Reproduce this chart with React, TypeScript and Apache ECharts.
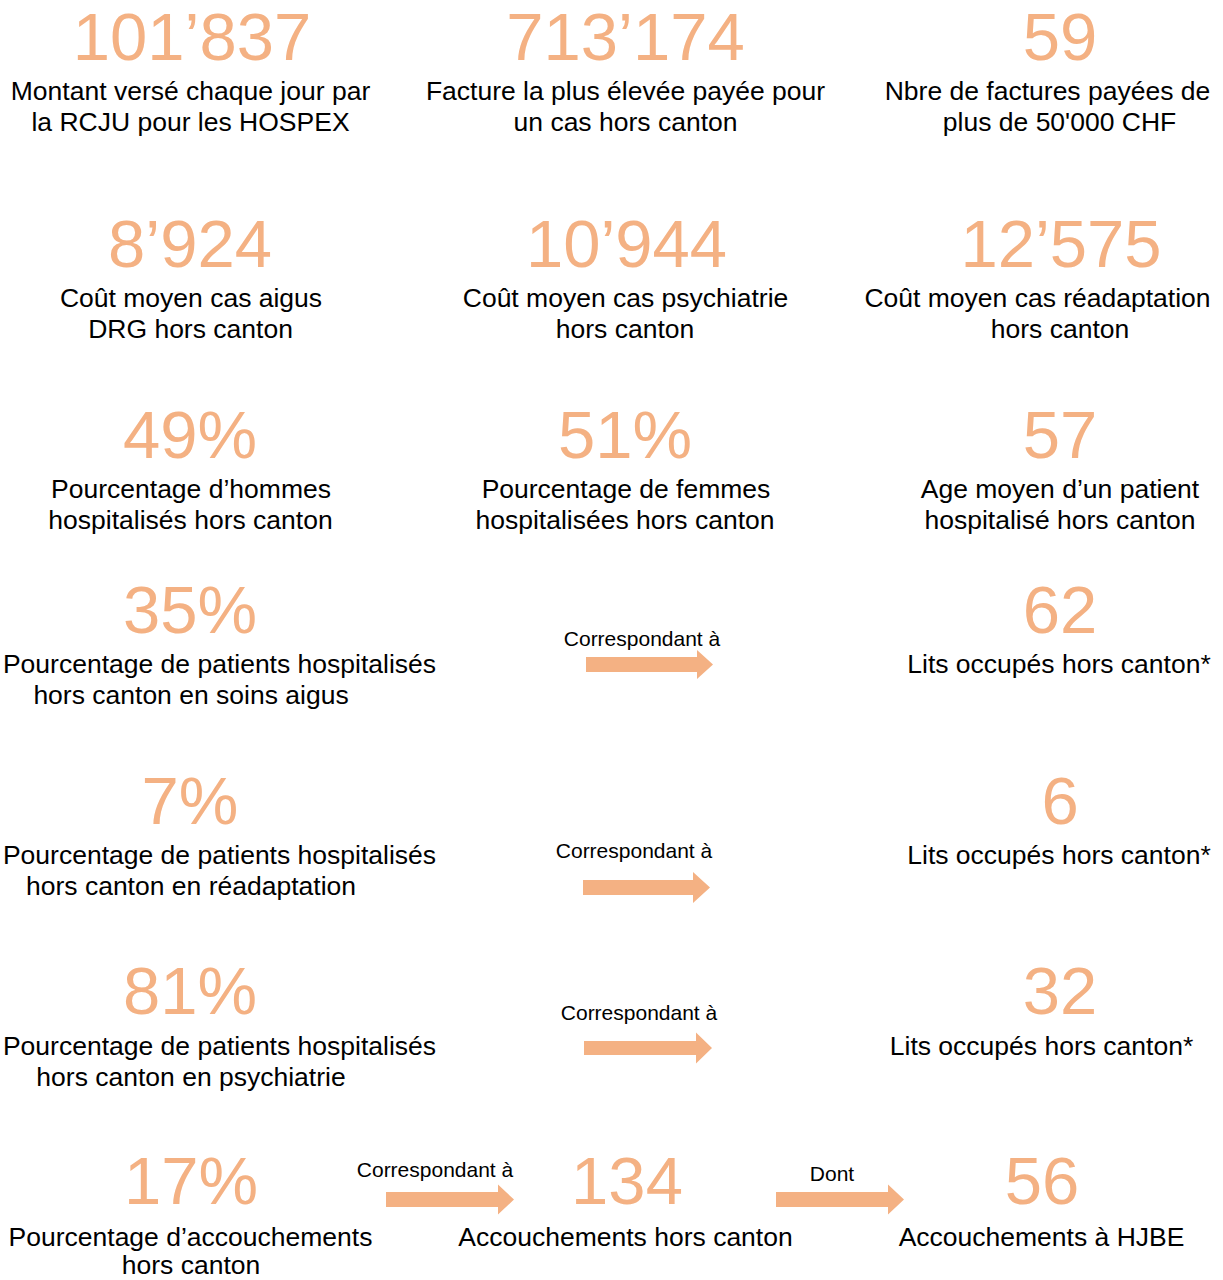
import React, { useEffect, useRef } from "react";
import * as echarts from "echarts";

// ---- Data ----
const kpiValues: string[] = [
  "101’837", "713’174", "59",
  "8’924", "10’944", "12’575",
  "49%", "51%", "57",
  "35%", "62",
  "7%", "6",
  "81%", "32",
  "17%", "134", "56",
];

const kpiLabels: string[][] = [
  ["Montant versé chaque jour par", "la RCJU pour les HOSPEX"],
  ["Facture la plus élevée payée pour", "un cas hors canton"],
  ["Nbre de factures payées de", "plus de 50'000 CHF"],
  ["Coût moyen cas aigus", "DRG hors canton"],
  ["Coût moyen cas psychiatrie", "hors canton"],
  ["Coût moyen cas réadaptation", "hors canton"],
  ["Pourcentage d’hommes", "hospitalisés hors canton"],
  ["Pourcentage de femmes", "hospitalisées hors canton"],
  ["Age moyen d’un patient", "hospitalisé hors canton"],
  ["Pourcentage de patients hospitalisés", "hors canton en soins aigus"],
  ["Lits occupés hors canton*"],
  ["Pourcentage de patients hospitalisés", "hors canton en réadaptation"],
  ["Lits occupés hors canton*"],
  ["Pourcentage de patients hospitalisés", "hors canton en psychiatrie"],
  ["Lits occupés hors canton*"],
  ["Pourcentage d’accouchements", "hors canton"],
  ["Accouchements hors canton"],
  ["Accouchements à HJBE"],
];

const arrowCaptions: string[] = [
  "Correspondant à",
  "Correspondant à",
  "Correspondant à",
  "Correspondant à",
  "Dont",
];

// ---- Layout (positions only) ----
// [numberX, numberY, labelLine1X, labelLine2X, labelLine1Y, labelLine2Y]
const kpiLayout: number[][] = [
  [192, 36, 190.5, 190.5, 91, 122],
  [625.5, 36, 625.5, 625.5, 91, 122],
  [1060, 36, 1047.5, 1059.5, 91, 122],
  [190, 243, 191, 190.5, 298, 329],
  [626.5, 243, 625.5, 625, 298, 329],
  [1061, 243, 1037.5, 1060, 298, 329],
  [190, 434, 191, 190.5, 489, 520],
  [625, 434, 626, 625, 489, 520],
  [1060, 434, 1060, 1060, 489, 520],
  [190, 609, 219.5, 191, 664, 695],
  [1060, 609, 1059, 1059, 664, 695],
  [190, 800, 219.5, 191, 855, 886],
  [1060, 800, 1059, 1059, 855, 886],
  [190, 990, 219.5, 191, 1046, 1077],
  [1060, 990, 1041.5, 1041.5, 1046, 1077],
  [191, 1180, 190.5, 191, 1237, 1265],
  [627, 1180, 625.5, 625.5, 1237, 1268],
  [1042, 1180, 1041.5, 1041.5, 1237, 1268],
];

// [x0, headStartX, tipX, centerY, bodyHalf, headHalf, captionX, captionY]
const arrowLayout: number[][] = [
  [586, 697, 713, 664.5, 7.5, 14.5, 642, 638],
  [583, 693, 710, 887.5, 7.5, 15.5, 634, 850],
  [584, 696, 712, 1048, 7, 15.5, 639, 1012],
  [386, 498, 514, 1199.5, 7.5, 15, 435, 1169],
  [776, 888, 904, 1199.5, 7.5, 15, 832, 1173],
];

const ORANGE = "#F4B183";
const FONT = '"Liberation Sans", Arial, sans-serif';
const NUM_SIZE = 67;
const LABEL_SIZE = 26.5;
const CAPTION_SIZE = 21;

function text(x: number, y: number, t: string, size: number, fill: string) {
  return {
    type: "text",
    x,
    y,
    silent: true,
    style: {
      text: t,
      font: `${size}px ${FONT}`,
      fill,
      textAlign: "center",
      textVerticalAlign: "middle",
      align: "center",
      verticalAlign: "middle",
    },
  };
}

export default function App() {
  const ref = useRef<HTMLDivElement>(null);

  useEffect(() => {
    if (!ref.current) return;
    const chart = echarts.init(ref.current, undefined, { renderer: "svg" });
    const elements: any[] = [];

    kpiValues.forEach((v, i) => {
      const [nx, ny, l1x, l2x, l1y, l2y] = kpiLayout[i];
      elements.push(text(nx, ny, v, NUM_SIZE, ORANGE));
      const lines = kpiLabels[i];
      lines.forEach((line, j) => {
        elements.push(
          text(j === 0 ? l1x : l2x, j === 0 ? l1y : l2y, line, LABEL_SIZE, "#000000")
        );
      });
    });

    arrowCaptions.forEach((c, i) => {
      const [x0, hx, tx, cy, bh, hh, capX, capY] = arrowLayout[i];
      elements.push({
        type: "polygon",
        silent: true,
        shape: {
          points: [
            [x0, cy - bh],
            [hx, cy - bh],
            [hx, cy - hh],
            [tx, cy],
            [hx, cy + hh],
            [hx, cy + bh],
            [x0, cy + bh],
          ],
        },
        style: { fill: ORANGE },
      });
      elements.push(text(capX, capY, c, CAPTION_SIZE, "#000000"));
    });

    chart.setOption({
      animation: false,
      backgroundColor: "#ffffff",
      graphic: { elements },
    });

    return () => chart.dispose();
  }, []);

  return (
    <div
      ref={ref}
      style={{ position: "absolute", left: 0, top: 0, width: 1223, height: 1280 }}
    />
  );
}
